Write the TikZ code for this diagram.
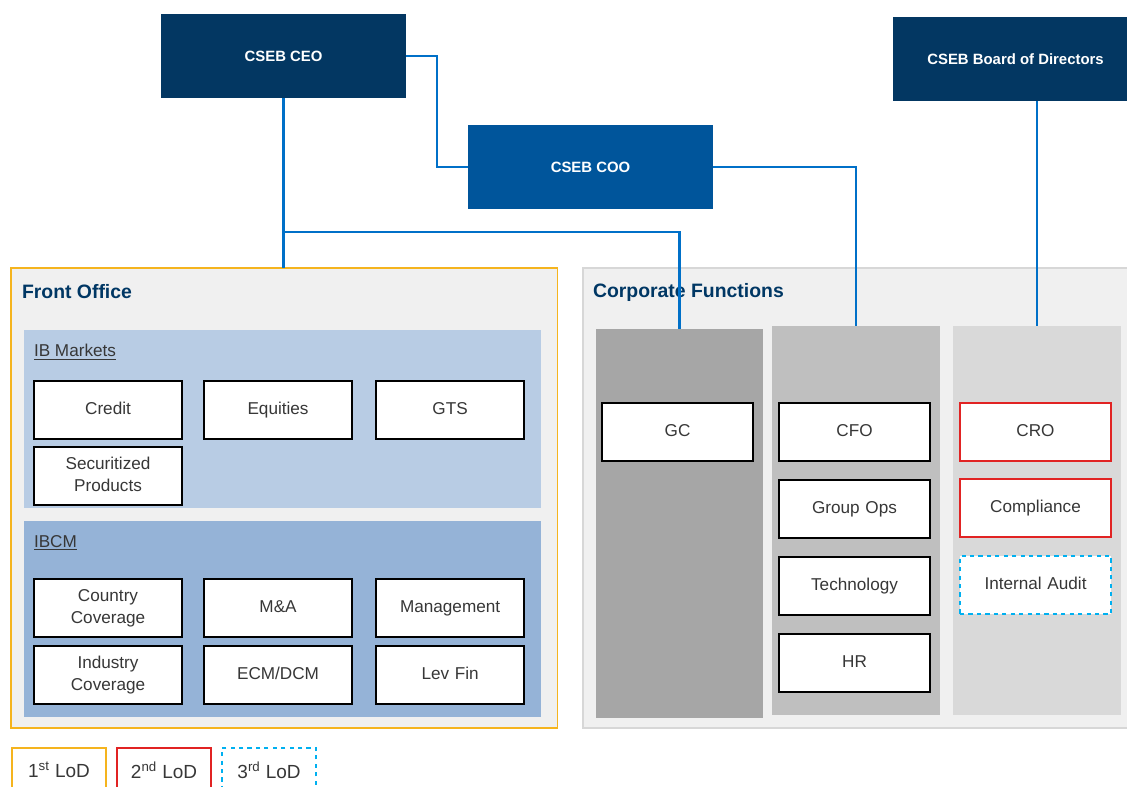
\documentclass[tikz,border=0pt]{standalone}
\usepackage{fontspec}
\setmainfont{Liberation Sans}
\usetikzlibrary{positioning}

\definecolor{navy}{RGB}{3,55,98}
\definecolor{midblue}{RGB}{0,85,155}
\definecolor{linkblue}{RGB}{0,112,200}
\definecolor{titleblue}{RGB}{0,55,100}
\definecolor{lodorange}{RGB}{245,180,30}
\definecolor{lodred}{RGB}{225,35,35}
\definecolor{lodcyan}{RGB}{0,176,240}
\definecolor{framegray}{RGB}{240,240,240}
\definecolor{edgegray}{RGB}{215,215,215}
\definecolor{ibmfill}{RGB}{184,204,228}
\definecolor{ibcmfill}{RGB}{149,179,215}
\definecolor{colA}{RGB}{166,166,166}
\definecolor{colB}{RGB}{191,191,191}
\definecolor{colC}{RGB}{217,217,217}
\definecolor{inkgray}{RGB}{55,55,55}

\begin{document}
\begin{tikzpicture}[x=0.025cm, y=-0.025cm,
                    every node/.style={inner sep=0pt, outer sep=0pt},
                    exec/.style={rectangle, text=white, font=\fontsize{10.6}{12}\selectfont\bfseries, minimum width=6.125cm, minimum height=2.1cm, anchor=north west},
                    frame/.style={rectangle, draw, fill=framegray, line width=0.9pt, minimum width=13.65cm, minimum height=11.5cm, anchor=north west},
                    panel/.style={rectangle, minimum width=12.925cm, anchor=north west},
                    column/.style={rectangle, minimum width=4.2cm, minimum height=9.725cm, anchor=north west},
                    title/.style={anchor=west, text=titleblue, font=\fontsize{13.8}{16}\selectfont\bfseries},
                    sublabel/.style={anchor=west, text=inkgray, font=\fontsize{12.2}{14}\selectfont},
                    unit/.style={rectangle, draw=black, fill=white, line width=1pt, minimum width=3.7cm, minimum height=1.45cm, text width=3.5cm, align=center, text=inkgray, font=\fontsize{12.2}{15.5}\selectfont, execute at begin node=\strut, execute at end node=\strut},
                    wide/.style={minimum width=3.775cm},
                    lodbox/.style={rectangle, fill=white, line width=1pt, minimum width=2.35cm, minimum height=1.1cm, text=inkgray, font=\fontsize{13.5}{16}\selectfont},
                    link/.style={draw=linkblue, line width=1.5pt}]

    \useasboundingbox (0,0) rectangle (1127,787);

    % Frames
    \node[frame, draw=lodorange] (frontoffice) at (11,268) {};
    \node[frame, draw=edgegray, minimum width=13.7cm] (corporate) at (583,268) {};
    \node[title] (fotitle) at (22,292) {Front Office};
    \node[title] (cftitle) at (593,292) {Corporate Functions};

    % Front Office
    \node[panel, fill=ibmfill, minimum height=4.45cm] (ibmarkets) at (24,330) {};
    \node[panel, fill=ibcmfill, minimum height=4.9cm] (ibcm) at (24,521) {};
    \node[sublabel] (ibmlabel) at (34,352) {\underline{IB Markets}};
    \node[sublabel] (ibcmlabel) at (34,543) {\underline{IBCM}};

    \node[unit, anchor=north west] (credit) at (34,381) {Credit};
    \node[unit, right=0.55cm of credit] (equities) {Equities};
    \node[unit, right=0.6cm of equities] (gts) {GTS};
    \node[unit, below=0.2cm of credit] (securitized) {Securitized\\Products};

    \node[unit, anchor=north west] (country) at (34,579) {Country\\Coverage};
    \node[unit, right=0.55cm of country] (mna) {M\&A};
    \node[unit, right=0.6cm of mna] (management) {Management};
    \node[unit, below=0.225cm of country] (industry) {Industry\\Coverage};
    \node[unit, right=0.55cm of industry] (ecmdcm) {ECM/DCM};
    \node[unit, right=0.6cm of ecmdcm] (levfin) {Lev Fin};

    % Corporate Functions
    \node[column, fill=colA, minimum width=4.175cm] (legal) at (596,329) {};
    \node[column, fill=colB] (finance) at (772,326) {};
    \node[column, fill=colC] (risk) at (953,326) {};

    \node[unit, wide, anchor=north west] (gc) at (602,403) {GC};

    \node[unit, wide, anchor=north west] (cfo) at (779,403) {CFO};
    \node[unit, wide, below=0.475cm of cfo] (groupops) {Group Ops};
    \node[unit, wide, below=0.475cm of groupops] (technology) {Technology};
    \node[unit, wide, below=0.475cm of technology] (hr) {HR};

    \node[unit, wide, draw=lodred, anchor=north west] (cro) at (960,403) {CRO};
    \node[unit, wide, draw=lodred, below=0.45cm of cro] (compliance) {Compliance};
    \node[unit, wide, draw=lodcyan, dashed, below=0.475cm of compliance] (audit) {Internal Audit};

    % Legend
    \node[lodbox, draw=lodorange, anchor=north west] (lod1) at (12,748) {1\textsuperscript{st} LoD};
    \node[lodbox, draw=lodred, right=0.275cm of lod1] (lod2) {2\textsuperscript{nd} LoD};
    \node[lodbox, draw=lodcyan, dashed, right=0.275cm of lod2] (lod3) {3\textsuperscript{rd} LoD};

    % Executives
    \node[exec, fill=navy] (ceo) at (161,14) {CSEB CEO};
    \node[exec, fill=midblue] (coo) at (468,125) {CSEB COO};
    \node[exec, fill=navy] (board) at (893,17) {CSEB Board of Directors};

    % Paths
    \draw[link] (ceo.east) -- ++(31,0) |- (coo.west);
    \draw[link] (ceo.south) -- (ceo.south |- frontoffice.north);
    \path (ceo.south) ++(0,134) coordinate (split);
    \draw[link] (split) -| (legal.north);
    \draw[link] (coo.east) -| (finance.north);
    \draw[link] (board.south -| risk.north) -- (risk.north);

\end{tikzpicture}
\end{document}
